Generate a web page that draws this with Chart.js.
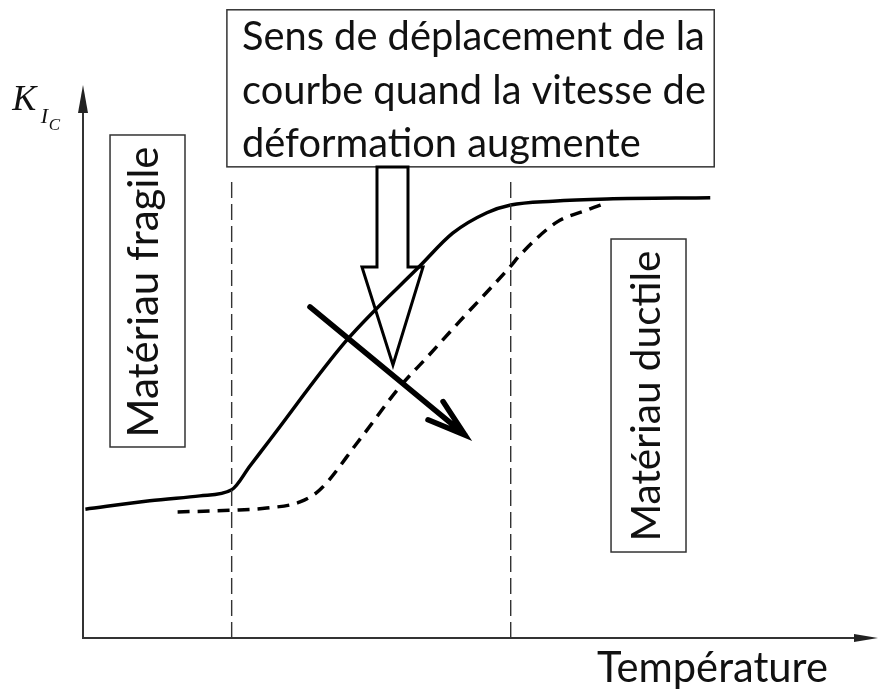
<!DOCTYPE html>
<html lang="fr">
<head>
<meta charset="utf-8">
<title>KIc en fonction de la température</title>
<script src="https://cdn.jsdelivr.net/npm/chart.js@4.4.1/dist/chart.umd.min.js"></script>
<style>
  html, body { margin: 0; padding: 0; background: #fff; }
  canvas { display: block; }
</style>
</head>
<body>
<canvas id="chart" width="880" height="692"></canvas>
<script>
// courbe continue (vitesse de déformation de référence)
const tempSolid = [0.3, 8.4, 14.7, 18.7, 21.0, 23.5, 33.2, 42.4, 46.5, 50.8, 53.8, 59.1, 65.9, 78.9];
const kicSolid  = [23.3, 24.8, 25.7, 26.8, 31.1, 35.8, 53.9, 67.3, 73.2, 76.9, 78.3, 79.0, 79.4, 79.6];

// courbe pointillée (vitesse de déformation plus élevée)
const tempDashed = [11.9, 18.7, 23.1, 27.3, 29.8, 34.5, 39.9, 43.3, 47.4, 53.7, 55.0, 59.6, 63.4, 65.9];
const kicDashed  = [22.8, 23.1, 23.5, 24.6, 26.8, 35.3, 45.5, 50.8, 57.3, 67.1, 69.3, 75.2, 77.4, 78.7];

// limites des domaines fragile / ductile
const guideTemps = [18.7, 53.8];
const guideTop = 83;

const titleLines = ["Sens de déplacement de la", "courbe quand la vitesse de", "déformation augmente"];
const labelFragile = "Matériau fragile";
const labelDuctile = "Matériau ductile";
const labelX = "Température";

const toPoints = (xs, ys) => xs.map((v, i) => ({ x: v, y: ys[i] }));

function fitSize(ctx, text, family, width, style = "") {
    ctx.font = `${style} 100px ${family}`;
    return 100 * width / ctx.measureText(text).width;
}

const decorations = {
    id: "decorations",
    afterDatasetsDraw(chart) {
        const { ctx, scales } = chart;
        const X = v => scales.x.getPixelForValue(v);
        const Y = v => scales.y.getPixelForValue(v);

        ctx.save();

        // axes + flèches
        ctx.strokeStyle = "#333";
        ctx.fillStyle = "#222";
        ctx.lineWidth = 2;
        ctx.beginPath();
        ctx.moveTo(X(0), Y(100) + 10);
        ctx.lineTo(X(0), Y(0));
        ctx.lineTo(X(100) - 10, Y(0));
        ctx.stroke();
        ctx.beginPath();
        ctx.moveTo(X(0), Y(100));
        ctx.lineTo(X(0) - 5, Y(100) + 28);
        ctx.lineTo(X(0) + 5, Y(100) + 28);
        ctx.closePath();
        ctx.fill();
        ctx.beginPath();
        ctx.moveTo(X(100), Y(0));
        ctx.lineTo(X(100) - 24, Y(0) - 4);
        ctx.lineTo(X(100) - 24, Y(0) + 4);
        ctx.closePath();
        ctx.fill();

        // cadres
        const box = (x1, y1, x2, y2) => {
            ctx.fillStyle = "#fff";
            ctx.fillRect(X(x1), Y(y1), X(x2) - X(x1), Y(y2) - Y(y1));
            ctx.strokeStyle = "#333";
            ctx.lineWidth = 1.5;
            ctx.strokeRect(X(x1), Y(y1), X(x2) - X(x1), Y(y2) - Y(y1));
        };
        box(18.1, 113.6, 79.4, 85.2);
        box(3.4, 90.96, 12.83, 34.54);
        box(66.42, 72.15, 75.85, 15.55);

        const fam = "Lato, 'Open Sans', sans-serif";
        ctx.fillStyle = "#111";
        ctx.textBaseline = "alphabetic";

        // texte du cadre supérieur
        ctx.textAlign = "left";
        const titleSize = fitSize(ctx, titleLines[0], fam, X(78.24) - X(20.0));
        ctx.font = `${titleSize}px ${fam}`;
        [106.3, 96.6, 87.0].forEach((b, i) => ctx.fillText(titleLines[i], X(20.0), Y(b)));

        // textes verticaux
        const vertical = (text, bx, cy) => {
            const s = fitSize(ctx, text, fam, 291);
            ctx.save();
            ctx.translate(X(bx), Y(cy));
            ctx.rotate(-Math.PI / 2);
            ctx.textAlign = "center";
            ctx.font = `${s}px ${fam}`;
            ctx.fillText(text, 0, 0);
            ctx.restore();
        };
        vertical(labelFragile, 9.43, 62.57);
        vertical(labelDuctile, 72.58, 43.76);

        // titre des axes
        ctx.textAlign = "left";
        ctx.font = `${fitSize(ctx, labelX, fam, 231)}px ${fam}`;
        ctx.fillText(labelX, X(64.65), Y(-7.96));

        const serif = "'Liberation Serif', 'DejaVu Serif', serif";
        ctx.font = `italic 36px ${serif}`;
        ctx.fillText("K", X(-8.9), Y(95.48));
        ctx.font = `italic 22px ${serif}`;
        ctx.fillText("I", X(-5.3), Y(93.1));
        ctx.font = `italic 17px ${serif}`;
        ctx.fillText("C", X(-4.3), Y(91.9));

        // flèche creuse
        ctx.strokeStyle = "#000";
        ctx.lineWidth = 3;
        ctx.lineJoin = "miter";
        ctx.beginPath();
        ctx.moveTo(X(36.98), Y(85.17));
        ctx.lineTo(X(36.98), Y(67.09));
        ctx.lineTo(X(35.09), Y(67.09));
        ctx.lineTo(X(38.99), Y(49.37));
        ctx.lineTo(X(42.77), Y(67.09));
        ctx.lineTo(X(40.88), Y(67.09));
        ctx.lineTo(X(40.88), Y(85.17));
        ctx.closePath();
        ctx.stroke();

        // flèche pleine
        const x0 = X(28.55), y0 = Y(59.86), x1 = X(48.05), y1 = Y(36.71);
        const a = Math.atan2(y1 - y0, x1 - x0);
        ctx.lineWidth = 5.5;
        ctx.lineCap = "round";
        ctx.beginPath();
        ctx.moveTo(x0, y0);
        ctx.lineTo(x1, y1);
        ctx.moveTo(x1 - 40 * Math.cos(a - 0.3), y1 - 40 * Math.sin(a - 0.3));
        ctx.lineTo(x1, y1);
        ctx.lineTo(x1 - 40 * Math.cos(a + 0.3), y1 - 40 * Math.sin(a + 0.3));
        ctx.stroke();

        ctx.restore();
    }
};

const guideSets = guideTemps.map(t => ({
    data: [{ x: t, y: 0 }, { x: t, y: guideTop }],
    borderColor: "#333",
    borderWidth: 1.4,
    borderDash: [16, 6],
    pointRadius: 0,
    showLine: true
}));

new Chart(document.getElementById("chart"), {
    type: "scatter",
    data: {
        datasets: [
            ...guideSets,
            {
                data: toPoints(tempSolid, kicSolid),
                borderColor: "#000",
                borderWidth: 3.5,
                pointRadius: 0,
                showLine: true,
                cubicInterpolationMode: "monotone"
            },
            {
                data: toPoints(tempDashed, kicDashed),
                borderColor: "#000",
                borderWidth: 3.5,
                borderDash: [12, 8],
                pointRadius: 0,
                showLine: true,
                cubicInterpolationMode: "monotone"
            }
        ]
    },
    options: {
        responsive: false,
        animation: false,
        layout: { padding: { left: 83, right: 2, top: 85, bottom: 54 } },
        plugins: { legend: { display: false }, tooltip: { enabled: false } },
        scales: {
            x: { type: "linear", min: 0, max: 100, display: false },
            y: { type: "linear", min: 0, max: 100, display: false }
        }
    },
    plugins: [decorations]
});
</script>
</body>
</html>
